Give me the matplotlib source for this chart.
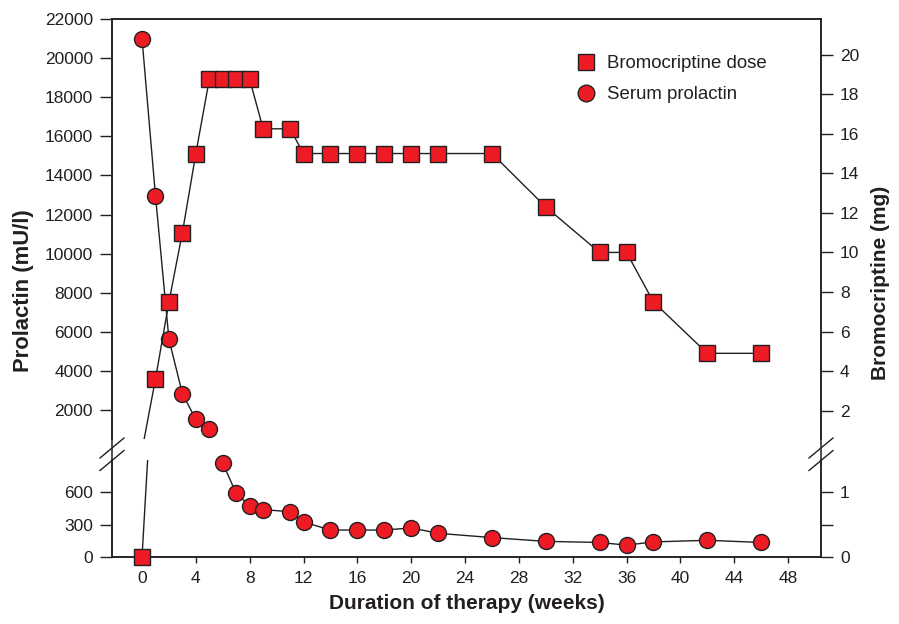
import numpy as np
import matplotlib
matplotlib.use("Agg")
import matplotlib.pyplot as plt
from matplotlib.lines import Line2D

plt.rcParams['font.family'] = ['Liberation Sans', 'DejaVu Sans']

# data
weeks = [0, 1, 2, 3, 4, 5, 6, 7, 8, 9, 11, 12, 14, 16, 18, 20, 22, 26, 30, 34, 36, 38, 42, 46]
prolactin = [21000, 12970, 5630, 2850, 1530, 1030, 870, 590, 475, 440, 420, 325,
             250, 250, 250, 270, 220, 180, 145, 135, 110, 140, 155, 135]
dose = [0, 3.6, 7.5, 11, 15, 18.75, 18.75, 18.75, 18.75, 16.25, 16.25, 15,
        15, 15, 15, 15, 15, 15, 12.3, 10, 10, 7.5, 4.9, 4.9]

x_ticks = list(range(0, 49, 4))
prl_top_ticks = list(range(2000, 22001, 2000))
prl_bot_ticks = [0, 300, 600]
dose_top_ticks = list(range(2, 21, 2))
dose_bot_ticks = [0, 0.5, 1]
dose_bot_labels = ['0', '', '1']

RED = '#ED1C24'
DARK = '#231F20'

weeks = np.array(weeks)
prolactin = np.array(prolactin)
dose = np.array(dose)

W, H = 899, 624
fig = plt.figure(figsize=(W / 100, H / 100), dpi=100)

L, R = 112 / W, 821 / W
top_lo, top_hi = 1 - 439 / H, 1 - 19 / H
bot_lo, bot_hi = 1 - 557 / H, 1 - 460 / H

ax_top = fig.add_axes([L, top_lo, R - L, top_hi - top_lo])
ax_bot = fig.add_axes([L, bot_lo, R - L, bot_hi - bot_lo], sharex=ax_top)
ax_top_r = ax_top.twinx()
ax_bot_r = ax_bot.twinx()

ax_top.set_ylim(530, 22000)
ax_bot.set_ylim(0, 900)
ax_top_r.set_ylim(0.57, 21.8)
ax_bot_r.set_ylim(0, 1.5)
ax_top.set_xlim(-2.23, 50.45)

line_kw = dict(color=DARK, lw=1.0)
mk_kw = dict(markerfacecolor=RED, markeredgecolor=DARK, markeredgewidth=1.0)

# prolactin: high values on the upper piece, low values on the lower piece
brk = ax_bot.get_ylim()[1]
hi = prolactin > brk
ax_top.plot(weeks[hi], prolactin[hi], marker='o', ms=11.5, clip_on=False, zorder=3, **line_kw, **mk_kw)
ax_bot.plot(weeks[~hi], prolactin[~hi], marker='o', ms=11.5, clip_on=False, zorder=3, **line_kw, **mk_kw)

# bromocriptine dose on the right axes
ax_top_r.plot(weeks, dose, zorder=2, **line_kw)
ax_top_r.plot(weeks[dose > 1.5], dose[dose > 1.5], ls='none', marker='s', ms=11, clip_on=False, zorder=3, **mk_kw)
ax_bot_r.plot(weeks, dose, zorder=2, **line_kw)
ax_bot_r.plot(weeks[dose <= 1.5], dose[dose <= 1.5], ls='none', marker='s', ms=11, clip_on=False, zorder=3, **mk_kw)

for a in (ax_top, ax_bot, ax_top_r, ax_bot_r):
    for s in a.spines.values():
        s.set_linewidth(1.1)
        s.set_color(DARK)
    a.tick_params(colors=DARK, labelcolor=DARK, labelsize=12.5, width=1.0)
for a in (ax_top, ax_top_r):
    a.spines['bottom'].set_visible(False)
for a in (ax_bot, ax_bot_r):
    a.spines['top'].set_visible(False)

ax_top.tick_params(axis='x', bottom=False, labelbottom=False)
ax_top.tick_params(axis='y', direction='out', length=8.6, pad=5)
ax_bot.tick_params(axis='y', direction='out', length=8.6, pad=5)
ax_top_r.tick_params(axis='y', direction='out', length=8.6, pad=5)
ax_bot_r.tick_params(axis='y', direction='out', length=8.6, pad=5)
ax_bot.tick_params(axis='x', direction='out', length=4, pad=6)

ax_bot.set_xticks(x_ticks)
ax_top.set_yticks(prl_top_ticks)
ax_bot.set_yticks(prl_bot_ticks)
ax_top_r.set_yticks(dose_top_ticks)
ax_bot_r.set_yticks(dose_bot_ticks, dose_bot_labels)

ax_bot.set_xlabel('Duration of therapy (weeks)', fontsize=15, fontweight='bold', color=DARK, labelpad=6)
fig.text(24 / W, 1 - 291 / H, 'Prolactin (mU/l)', rotation=90, ha='center', va='center',
         fontsize=15.8, fontweight='bold', color=DARK)
fig.text(880 / W, 1 - 283 / H, 'Bromocriptine (mg)', rotation=90, ha='center', va='center',
         fontsize=15, fontweight='bold', color=DARK)

# continuous spines through the break, plus break marks
for xs in (L, R):
    fig.add_artist(Line2D([xs, xs], [top_lo, bot_hi], color=DARK, lw=1.1))
    for yc in (448, 460.5):
        fig.add_artist(Line2D([xs - 12 / W, xs + 12 / W], [1 - (yc + 10) / H, 1 - (yc - 10) / H],
                              color=DARK, lw=1.0))

handles = [Line2D([], [], ls='none', marker='s', ms=12, **mk_kw),
           Line2D([], [], ls='none', marker='o', ms=12, **mk_kw)]
leg = ax_top.legend(handles, ['Bromocriptine dose', 'Serum prolactin'], loc='upper left',
                    bbox_to_anchor=(577 / W, 1 - 55 / H), bbox_transform=fig.transFigure,
                    frameon=False, fontsize=13.4, borderpad=0, handlelength=1.0,
                    handletextpad=0.6, labelspacing=0.77, borderaxespad=0)
for t in leg.get_texts():
    t.set_color(DARK)

fig.savefig('out.png', dpi=100)
